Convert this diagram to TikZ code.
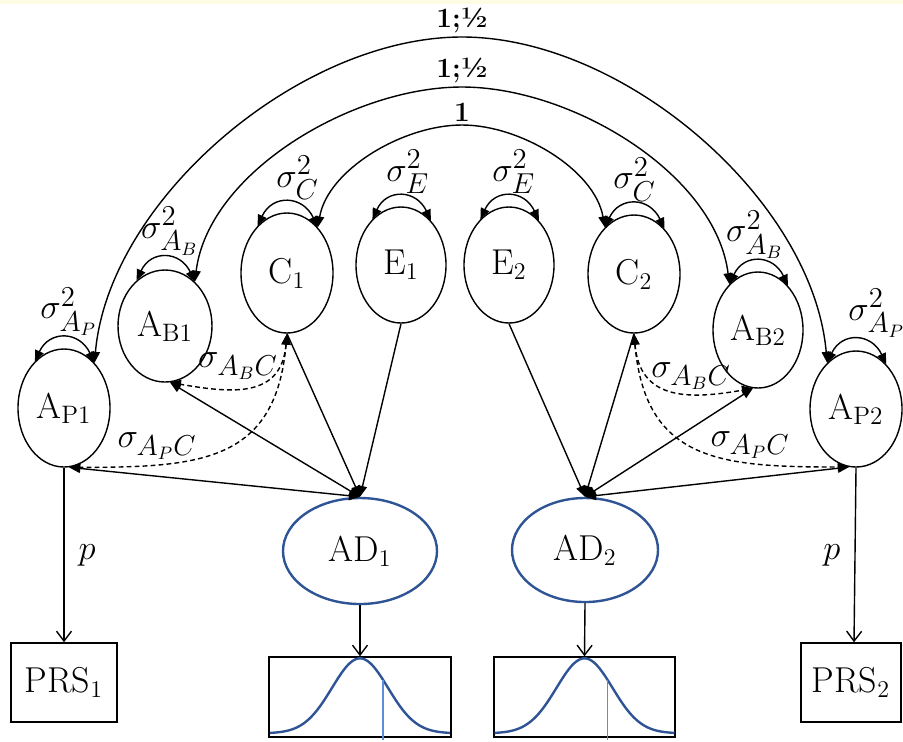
\documentclass[tikz,border=0pt]{standalone}
\usepackage{fontspec}
\usepackage{amsmath}
\usetikzlibrary{arrows.meta, shapes.geometric, positioning}

\definecolor{adblue}{RGB}{47,84,150}
\definecolor{cutblue}{RGB}{95,140,215}
\definecolor{topstrip}{RGB}{255,252,228}

\tikzset{
  latent/.style={draw, ellipse, inner sep=0pt, font=\fontsize{18}{21}\selectfont},
  trait/.style={draw=adblue, ellipse, very thick, inner sep=0pt, font=\fontsize{18}{21}\selectfont},
  obs/.style={draw, rectangle, inner sep=0pt, font=\fontsize{18}{21}\selectfont},
  varlab/.style={above, inner sep=1pt, font=\fontsize{19}{21}\selectfont},
  covlab/.style={inner sep=1pt, font=\fontsize{19}{21}\selectfont},
  arclab/.style={above, inner sep=1.5pt, font=\fontsize{14}{16}\selectfont\bfseries},
  covline/.style={dash pattern=on 2.4pt off 1.6pt},
  barb/.style={-{Straight Barb[length=5pt,width=7.5pt]}},
}

\begin{document}
\begin{tikzpicture}[x=0.5pt, y=-0.5pt, >={Triangle[length=5.5pt,width=4.5pt]}, line width=0.7pt]

\useasboundingbox (0,0) rectangle (903,741);
\fill[topstrip] (0,0) rectangle (903,4);

% -------------------------------------------------------
% 1. Latent variables of twin 1 and twin 2
% -------------------------------------------------------
\node[latent, minimum width=46pt, minimum height=59pt] (AP1) at (64,408) {A$_{\mathrm{P1}}$};
\node[latent, minimum width=47pt, minimum height=56pt] (AB1) at (165,326) {A$_{\mathrm{B1}}$};
\node[latent, minimum width=46pt, minimum height=60pt] (C1) at (287,273) {C$_1$};
\node[latent, minimum width=45pt, minimum height=58pt] (E1) at (401,265) {E$_1$};
\node[latent, minimum width=45pt, minimum height=58pt] (E2) at (509,265) {E$_2$};
\node[latent, minimum width=46pt, minimum height=59pt] (C2) at (634,274) {C$_2$};
\node[latent, minimum width=45pt, minimum height=58pt] (AB2) at (758,330) {A$_{\mathrm{B2}}$};
\node[latent, minimum width=46pt, minimum height=58pt] (AP2) at (856,409) {A$_{\mathrm{P2}}$};

% -------------------------------------------------------
% 2. Phenotypes, scores and distributions
% -------------------------------------------------------
\node[trait, minimum width=77pt, minimum height=53pt] (AD1) at (360,551) {AD$_1$};
\node[trait, minimum width=73pt, minimum height=52pt] (AD2) at (585,550) {AD$_2$};
\node[obs, minimum width=53pt, minimum height=39.5pt] (PRS1) at (64,682.5) {PRS$_1$};
\node[obs, minimum width=50pt, minimum height=39.5pt] (PRS2) at (851,682.5) {PRS$_2$};
\node[obs, minimum width=91pt, minimum height=40pt] (D1) at (360,697) {};
\node[obs, minimum width=90.5pt, minimum height=40pt] (D2) at (584.5,697) {};

% -------------------------------------------------------
% 3. Variances
% -------------------------------------------------------
\foreach \n/\s/\dx in {AP1/A_P/2, AB1/A_B/2, C1/C/5, E1/E/3, E2/E/2, C2/C/0, AB2/A_B/-2, AP2/A_P/10}
  \draw[<->] (\n.122) to[out=65,in=115,looseness=1.5] node[varlab, xshift=\dx pt] (v\n) {$\sigma^2_{\s}$} (\n.56);

% -------------------------------------------------------
% 4. Twin correlations
% -------------------------------------------------------
\coordinate (topP) at (462,37);
\coordinate (topB) at (462,87);
\coordinate (topC) at (462,125);
\draw[<->] (AP1.56) to[out=85,in=180,looseness=0.85] (topP) node[arclab] (kP) {1;½}
  to[out=0,in=95,looseness=0.85] (AP2.122);
\draw[<->] (AB1.56) to[out=83,in=180,looseness=0.85] (topB) node[arclab] (kB) {1;½}
  to[out=0,in=97,looseness=0.85] (AB2.122);
\draw[<->] (C1.56) to[out=80,in=180,looseness=0.85] (topC) node[arclab] (kC) {1}
  to[out=0,in=100,looseness=0.85] (C2.122);

% -------------------------------------------------------
% 5. Paths to AD
% -------------------------------------------------------
\foreach \s/\t in {E1/AD1, C1/AD1, E2/AD2, C2/AD2}
  \draw[->] (\s.south) -- (\t.north);
\foreach \s/\a/\t in {AB1/-85/AD1, AP1/-85/AD1, AB2/-95/AD2, AP2/-97/AD2}
  \draw[<->] (\s.\a) -- (\t.north);

% covariances with C (dashed)
\draw[<->, covline] (C1.south) to[out=-95,in=-10,looseness=1.3] (AB1.-85);
\draw[<->, covline] (C1.south) to[out=-95,in=0,looseness=1.3] (AP1.-85);
\draw[<->, covline] (C2.south) to[out=-85,in=190,looseness=1.3] (AB2.-95);
\draw[<->, covline] (C2.south) to[out=-85,in=180,looseness=1.3] (AP2.-97);
\node[covlab] (cB1) at (238,366) {$\sigma_{A_BC}$};
\node[covlab] (cP1) at (157,446) {$\sigma_{A_PC}$};
\node[covlab] (cB2) at (691,376) {$\sigma_{A_BC}$};
\node[covlab] (cP2) at (750,445) {$\sigma_{A_PC}$};

% -------------------------------------------------------
% 6. PRS and liability distributions
% -------------------------------------------------------
\draw[barb] (AP1.south) -- node[covlab, right=6pt] (p1) {$p$} (PRS1.north);
\draw[barb] (AP2.south) -- node[covlab, left=6pt] (p2) {$p$} ([xshift=1.5pt]PRS2.north);
\draw[barb] (AD1.south) -- (D1.north);
\draw[barb] (AD2.south) -- (D2.north);

\def\sig{28}
\foreach \d in {D1,D2} {
  \begin{scope}[shift={(\d.north)}]
    \draw[adblue, very thick, line join=round] plot[domain=-90:90, samples=60, smooth]
      (\x, {77-75*exp(-((\x)*(\x))/(2*\sig*\sig))});
    \draw[cutblue, line width=0.9pt] (23,{77-75*exp(-(23*23)/(2*\sig*\sig))}) -- (23,84);
  \end{scope}
}

\end{tikzpicture}
\end{document}
